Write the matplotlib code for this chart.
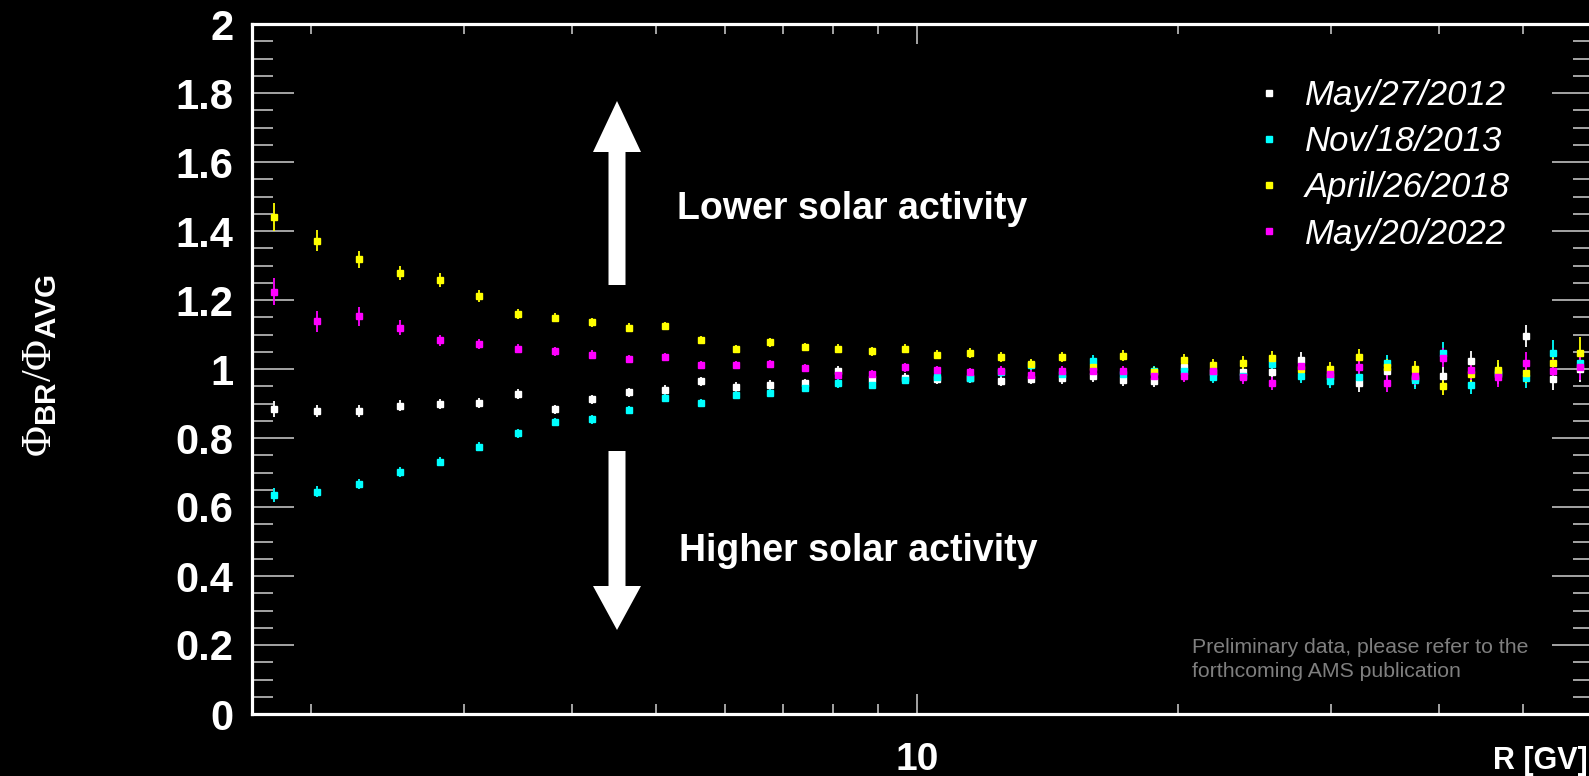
import matplotlib
matplotlib.use("Agg")
import matplotlib.pyplot as plt
from matplotlib.lines import Line2D
from matplotlib.patches import Polygon
from matplotlib.font_manager import FontProperties
from matplotlib.ticker import FixedLocator, NullFormatter, FixedFormatter

plt.rcParams['font.family'] = ['Liberation Sans', 'DejaVu Sans']
plt.rcParams['mathtext.fontset'] = 'custom'
plt.rcParams['mathtext.rm'] = 'Liberation Serif'
plt.rcParams['mathtext.bf'] = 'Liberation Sans:bold'
plt.rcParams['mathtext.it'] = 'Liberation Serif:italic'

# ---------------- data ----------------
rigidity = [1.812, 2.032, 2.272, 2.531, 2.816, 3.126, 3.461, 3.825, 4.220, 4.650,
            5.119, 5.629, 6.178, 6.773, 7.417, 8.112, 8.861, 9.671, 10.54, 11.49,
            12.49, 13.54, 14.69, 15.94, 17.29, 18.73, 20.28, 21.93, 23.73, 25.68,
            27.73, 29.93, 32.28, 34.78, 37.47, 40.37, 43.47, 46.77, 50.32, 54.11, 58.16]

labels = ['May/27/2012', 'Nov/18/2013', 'April/26/2018', 'May/20/2022']
colors = ['#ffffff', '#00ffff', '#ffff00', '#ff00ff']

ratio_2012 = [0.883, 0.879, 0.879, 0.894, 0.898, 0.901, 0.927, 0.883, 0.912, 0.932,
              0.940, 0.965, 0.948, 0.954, 0.959, 0.994, 0.970, 0.973, 0.971, 0.975,
              0.965, 0.971, 0.973, 0.979, 0.968, 0.966, 1.005, 0.990, 0.990, 0.990,
              1.026, 0.980, 0.958, 0.993, 0.975, 0.980, 1.023, 0.985, 1.096, 0.972, 1.000]
ratio_2013 = [0.635, 0.644, 0.667, 0.701, 0.731, 0.775, 0.814, 0.846, 0.854, 0.882,
              0.915, 0.901, 0.926, 0.930, 0.946, 0.958, 0.955, 0.969, 0.978, 0.973,
              0.990, 1.012, 0.985, 1.024, 0.985, 0.993, 0.995, 0.976, 0.980, 1.014,
              0.980, 0.966, 0.976, 1.016, 0.968, 1.047, 0.955, 0.990, 0.975, 1.047, 1.018]
ratio_2018 = [1.441, 1.372, 1.318, 1.278, 1.258, 1.211, 1.160, 1.149, 1.135, 1.120,
              1.124, 1.084, 1.059, 1.077, 1.063, 1.059, 1.051, 1.059, 1.042, 1.047,
              1.034, 1.014, 1.034, 1.007, 1.038, 0.990, 1.026, 1.012, 1.018, 1.031,
              0.999, 0.999, 1.034, 1.005, 0.999, 0.951, 0.985, 0.997, 0.989, 1.016, 1.047]
ratio_2022 = [1.224, 1.138, 1.153, 1.120, 1.084, 1.073, 1.059, 1.052, 1.041, 1.030,
              1.034, 1.012, 1.012, 1.015, 1.002, 0.983, 0.985, 1.005, 0.997, 0.990,
              0.994, 0.983, 0.994, 0.994, 0.994, 0.980, 0.980, 0.995, 0.976, 0.958,
              1.009, 0.985, 1.005, 0.958, 0.980, 1.033, 0.997, 0.978, 1.018, 0.994, 1.007]

err_2012 = [0.023, 0.018, 0.017, 0.016, 0.015, 0.015, 0.015, 0.014, 0.014, 0.013,
            0.013, 0.013, 0.013, 0.013, 0.013, 0.014, 0.014, 0.014, 0.014, 0.015,
            0.015, 0.015, 0.016, 0.016, 0.017, 0.018, 0.018, 0.019, 0.020, 0.021,
            0.022, 0.023, 0.024, 0.025, 0.026, 0.027, 0.028, 0.029, 0.032, 0.034, 0.038]
err_2013 = [0.020, 0.016, 0.015, 0.014, 0.013, 0.013, 0.013, 0.012, 0.012, 0.012,
            0.012, 0.012, 0.012, 0.012, 0.012, 0.013, 0.013, 0.013, 0.013, 0.014,
            0.014, 0.015, 0.015, 0.016, 0.016, 0.017, 0.018, 0.018, 0.019, 0.020,
            0.021, 0.022, 0.023, 0.024, 0.025, 0.030, 0.027, 0.028, 0.030, 0.036, 0.038]
err_2018 = [0.040, 0.031, 0.024, 0.021, 0.019, 0.017, 0.015, 0.014, 0.013, 0.013,
            0.012, 0.012, 0.012, 0.012, 0.012, 0.013, 0.013, 0.013, 0.013, 0.014,
            0.014, 0.015, 0.015, 0.016, 0.016, 0.017, 0.018, 0.018, 0.019, 0.020,
            0.021, 0.022, 0.023, 0.024, 0.025, 0.027, 0.028, 0.029, 0.031, 0.034, 0.045]
err_2022 = [0.039, 0.030, 0.027, 0.022, 0.016, 0.015, 0.013, 0.013, 0.013, 0.012,
            0.012, 0.012, 0.012, 0.012, 0.012, 0.013, 0.013, 0.013, 0.013, 0.014,
            0.014, 0.015, 0.015, 0.016, 0.016, 0.017, 0.018, 0.018, 0.019, 0.020,
            0.021, 0.022, 0.023, 0.024, 0.025, 0.027, 0.028, 0.029, 0.031, 0.034, 0.040]

series = [ratio_2012, ratio_2013, ratio_2018, ratio_2022]
errors = [err_2012, err_2013, err_2018, err_2022]

y_major = [0, 0.2, 0.4, 0.6, 0.8, 1, 1.2, 1.4, 1.6, 1.8, 2]
y_major_labels = ['0', '0.2', '0.4', '0.6', '0.8', '1', '1.2', '1.4', '1.6', '1.8', '2']
x_major = [10]
x_major_labels = ['10']
x_minor = [2, 3, 4, 5, 6, 7, 8, 9, 20, 30, 40, 50, 60]

# ---------------- figure ----------------
W, H = 1589, 776
fig = plt.figure(figsize=(W / 100, H / 100), dpi=100, facecolor='black')
L, R, T, B = 252, 1594, 24, 714
ax = fig.add_axes([L / W, (H - B) / H, (R - L) / W, (B - T) / H])
ax.set_facecolor('black')
ax.set_xscale('log')
ax.set_xlim(1.71, 60.3)
ax.set_ylim(0, 2)

for vals, errs, col in zip(series, errors, colors):
    ax.errorbar(rigidity, vals, yerr=errs, fmt='s', color=col, ms=4.6,
                elinewidth=1.3, capsize=0, mec=col, mfc=col)

for s in ax.spines.values():
    s.set_color('white')
    s.set_linewidth(2.3)

ax.xaxis.set_major_locator(FixedLocator(x_major))
ax.xaxis.set_major_formatter(FixedFormatter(x_major_labels))
ax.xaxis.set_minor_locator(FixedLocator(x_minor))
ax.xaxis.set_minor_formatter(NullFormatter())
ax.yaxis.set_major_locator(FixedLocator(y_major))
ax.yaxis.set_major_formatter(FixedFormatter(y_major_labels))
ax.yaxis.set_minor_locator(FixedLocator([i * 0.05 for i in range(41)]))

tick_col = '#d0d0d0'
ax.tick_params(axis='x', which='major', direction='in', length=14.5, width=1.1,
               color=tick_col, top=True, labelsize=28, labelcolor='white', pad=20.5)
ax.tick_params(axis='x', which='minor', direction='in', length=7.2, width=1.1,
               color=tick_col, top=True)
ax.tick_params(axis='y', which='major', direction='in', length=30, width=1.1,
               color=tick_col, right=True, labelsize=30, labelcolor='white', pad=13.5)
ax.tick_params(axis='y', which='minor', direction='in', length=15, width=1.1,
               color=tick_col, right=True)
for lab in ax.get_xticklabels() + ax.get_yticklabels():
    lab.set_fontweight('bold')

# y label
fig.text(40 / W, 1 - 366 / H, r'$\Phi_{\mathbf{BR}}/\Phi_{\mathbf{AVG}}$',
         rotation=90, ha='center', va='center', color='white', fontsize=30.5)
# x label
fig.text(1493 / W, 1 - 769 / H, 'R [GV]', ha='left', va='baseline',
         color='white', fontsize=22, fontweight='bold')

# arrows (figure pixel coordinates)
def px(x, y):
    return (x / 100.0, (H - y) / 100.0)

cx = 617
up = [px(cx, 101), px(cx + 24, 152), px(cx + 8.5, 152), px(cx + 8.5, 285),
      px(cx - 8.5, 285), px(cx - 8.5, 152), px(cx - 24, 152)]
down = [px(cx, 630), px(cx + 24, 586), px(cx + 8.5, 586), px(cx + 8.5, 451),
        px(cx - 8.5, 451), px(cx - 8.5, 586), px(cx - 24, 586)]
for pts in (up, down):
    fig.add_artist(Polygon(pts, closed=True, facecolor='white', edgecolor='none',
                           transform=fig.dpi_scale_trans))

fig.text(677 / W, 1 - 219 / H, 'Lower solar activity', ha='left', va='baseline',
         color='white', fontsize=27, fontweight='bold')
fig.text(679 / W, 1 - 561 / H, 'Higher solar activity', ha='left', va='baseline',
         color='white', fontsize=27, fontweight='bold')

# preliminary note
fig.text(1192 / W, 1 - 652.7 / H, 'Preliminary data, please refer to the',
         ha='left', va='baseline', color='#7f7f7f', fontsize=15.3)
fig.text(1192 / W, 1 - 676.7 / H, 'forthcoming AMS publication',
         ha='left', va='baseline', color='#7f7f7f', fontsize=15.3)

# legend
handles = [Line2D([], [], ls='none', marker='s', ms=4.8, color=c) for c in colors]
leg = ax.legend(handles, labels, loc='upper left',
                bbox_to_anchor=(1255 / W, 1 - 79 / H), bbox_transform=fig.transFigure,
                frameon=False, prop=FontProperties(family='Liberation Sans', style='italic', size=25),
                handlelength=0.8, handletextpad=0.64, labelspacing=0.38,
                borderpad=0, borderaxespad=0)
for t in leg.get_texts():
    t.set_color('white')

fig.savefig('out.png', dpi=100, facecolor='black')
